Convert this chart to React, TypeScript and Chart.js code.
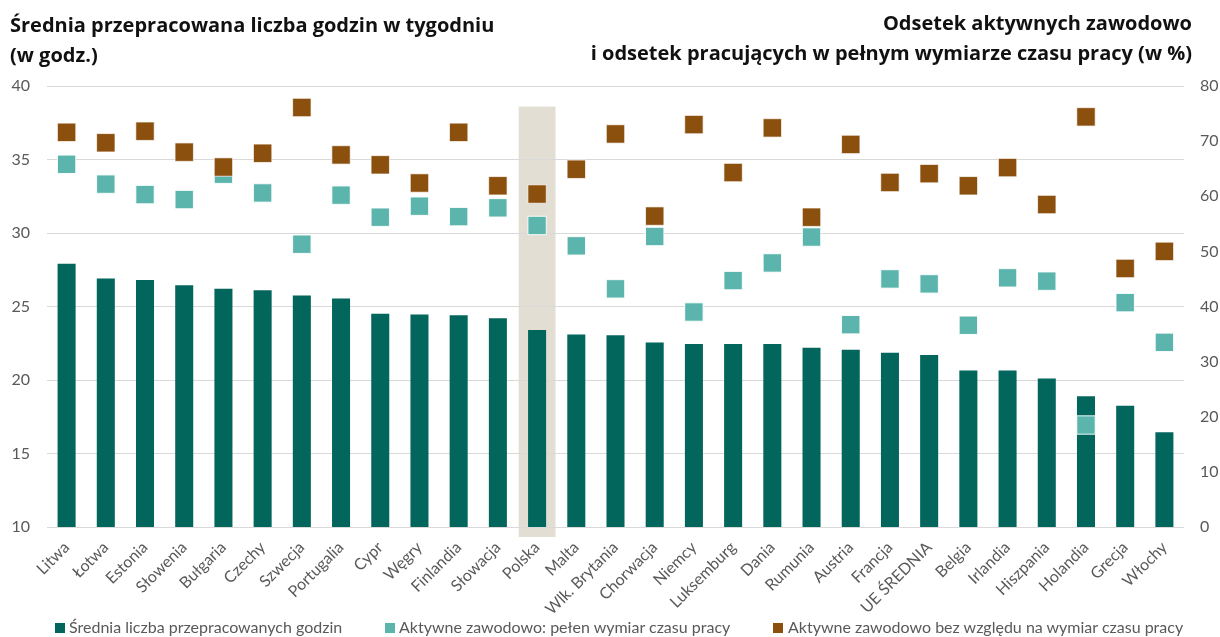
import React, { useEffect, useRef } from "react";
import { Chart, registerables } from "chart.js";

Chart.register(...registerables);

const categories = [
  "Litwa", "Łotwa", "Estonia", "Słowenia", "Bułgaria", "Czechy", "Szwecja", "Portugalia",
  "Cypr", "Węgry", "Finlandia", "Słowacja", "Polska", "Malta", "Wlk. Brytania", "Chorwacja",
  "Niemcy", "Luksemburg", "Dania", "Rumunia", "Austria", "Francja", "UE ŚREDNIA", "Belgia",
  "Irlandia", "Hiszpania", "Holandia", "Grecja", "Włochy",
];

// Średnia liczba przepracowanych godzin (left axis)
const avgHours = [
  27.9, 26.9, 26.8, 26.45, 26.2, 26.1, 25.75, 25.55,
  24.5, 24.45, 24.4, 24.2, 23.4, 23.1, 23.05, 22.55,
  22.45, 22.45, 22.45, 22.2, 22.05, 21.85, 21.7, 20.65,
  20.65, 20.1, 18.9, 18.25, 16.45,
];

// Aktywne zawodowo: pełen wymiar czasu pracy (right axis, %)
const fullTimeRate = [
  65.8, 62.2, 60.3, 59.4, 64.0, 60.6, 51.3, 60.2,
  56.2, 58.2, 56.3, 57.9, 54.7, 51.0, 43.2, 52.7,
  39.0, 44.7, 47.9, 52.6, 36.7, 45.0, 44.1, 36.6,
  45.2, 44.6, 18.5, 40.7, 33.5,
];

// Aktywne zawodowo bez względu na wymiar czasu pracy (right axis, %)
const activityRate = [
  71.6, 69.7, 71.8, 68.0, 65.3, 67.8, 76.1, 67.5,
  65.7, 62.4, 71.6, 61.9, 60.4, 64.9, 71.3, 56.4,
  73.0, 64.3, 72.4, 56.2, 69.4, 62.5, 64.1, 61.9,
  65.2, 58.5, 74.4, 46.9, 50.0,
];

const leftAxisRange = [10, 40];
const leftAxisStep = 5;
const rightAxisRange = [0, 80];
const rightAxisStep = 10;

const highlightCategory = "Polska";
const highlightTopValue = 38.6;

const seriesNames = [
  "Średnia liczba przepracowanych godzin",
  "Aktywne zawodowo: pełen wymiar czasu pracy",
  "Aktywne zawodowo bez względu na wymiar czasu pracy",
];
const seriesColors = ["#03665C", "#5BB5AC", "#8B4F0E"];

const FONT = "Lato, 'Open Sans', sans-serif";
const TITLE_FONT = "'Open Sans', Lato, sans-serif";

const highlightPlugin = {
  id: "highlightBand",
  beforeDraw(chart: any) {
    const x = chart.scales.x;
    const y = chart.scales.y;
    const idx = categories.indexOf(highlightCategory);
    if (idx < 0) return;
    const cx = x.getPixelForValue(idx);
    const step = x.getPixelForValue(1) - x.getPixelForValue(0);
    const w = step * 0.94;
    const top = y.getPixelForValue(highlightTopValue);
    const bottom = chart.chartArea.bottom + 10;
    const ctx = chart.ctx;
    ctx.save();
    ctx.fillStyle = "#E3DED3";
    ctx.fillRect(cx - w / 2, top, w, bottom - top);
    ctx.restore();
  },
};

export default function App() {
  const canvasRef = useRef<HTMLCanvasElement | null>(null);

  useEffect(() => {
    if (!canvasRef.current) return;
    const chart = new Chart(canvasRef.current, {
      type: "bar",
      data: {
        labels: categories,
        datasets: [
          {
            type: "bar",
            label: seriesNames[0],
            data: avgHours,
            backgroundColor: seriesColors[0],
            yAxisID: "y",
            order: 2,
            barPercentage: 0.46,
            categoryPercentage: 1,
          } as any,
          {
            type: "line",
            label: seriesNames[1],
            data: fullTimeRate,
            yAxisID: "y1",
            showLine: false,
            pointStyle: "rect",
            pointRadius: 13,
            pointBackgroundColor: seriesColors[1],
            pointBorderColor: "rgba(255,255,255,0.9)",
            pointBorderWidth: 1,
            backgroundColor: seriesColors[1],
            borderColor: seriesColors[1],
            order: 1,
          } as any,
          {
            type: "line",
            label: seriesNames[2],
            data: activityRate,
            yAxisID: "y1",
            showLine: false,
            pointStyle: "rect",
            pointRadius: 13,
            pointBackgroundColor: seriesColors[2],
            pointBorderColor: "rgba(255,255,255,0.7)",
            pointBorderWidth: 1,
            backgroundColor: seriesColors[2],
            borderColor: seriesColors[2],
            order: 0,
          } as any,
        ],
      },
      options: {
        animation: false,
        responsive: false,
        maintainAspectRatio: false,
        layout: { padding: { top: 86, left: 0, right: 0, bottom: 0 } },
        plugins: {
          legend: { display: false },
          tooltip: { enabled: false },
          title: { display: false },
        },
        scales: {
          x: {
            grid: { display: false },
            border: { display: false },
            ticks: {
              autoSkip: false,
              maxRotation: 45,
              minRotation: 45,
              color: "#595959",
              font: { family: FONT, size: 16 },
              padding: 3,
            },
            afterFit(scale: any) {
              scale.height = 110;
            },
          },
          y: {
            position: "left",
            min: leftAxisRange[0],
            max: leftAxisRange[1],
            ticks: {
              stepSize: leftAxisStep,
              color: "#595959",
              font: { family: FONT, size: 16 },
              padding: 17,
            },
            grid: { color: "#D9D9D9", drawTicks: false, lineWidth: 1 },
            border: { display: false },
            afterFit(scale: any) {
              scale.width = 47;
            },
          },
          y1: {
            position: "right",
            min: rightAxisRange[0],
            max: rightAxisRange[1],
            ticks: {
              stepSize: rightAxisStep,
              color: "#595959",
              font: { family: FONT, size: 16 },
              padding: 16,
            },
            grid: { display: false, drawTicks: false },
            border: { display: false },
            afterFit(scale: any) {
              scale.width = 36;
            },
          },
        },
      },
      plugins: [highlightPlugin],
    });
    return () => chart.destroy();
  }, []);

  const titleStyle: React.CSSProperties = {
    position: "absolute",
    fontFamily: TITLE_FONT,
    fontWeight: 700,
    fontSize: 20,
    lineHeight: "30px",
    color: "#111",
    whiteSpace: "nowrap",
  };

  const legendItems = [
    { box: 55, text: 69 },
    { box: 385, text: 399 },
    { box: 773, text: 788 },
  ];

  return (
    <div style={{ position: "absolute", left: 0, top: 0, width: 1220, height: 637, background: "#fff", overflow: "hidden" }}>
      <canvas ref={canvasRef} width={1220} height={637} style={{ position: "absolute", left: 0, top: 0, width: 1220, height: 637 }} />
      <div style={{ ...titleStyle, left: 10, top: 10, textAlign: "left" }}>
        Średnia przepracowana liczba godzin w tygodniu
        <br />
        (w godz.)
      </div>
      <div style={{ ...titleStyle, right: 28, top: 8, textAlign: "right" }}>
        Odsetek aktywnych zawodowo
        <br />
        i odsetek pracujących w pełnym wymiarze czasu pracy (w %)
      </div>
      {legendItems.map((it, i) => (
        <React.Fragment key={i}>
          <div
            style={{
              position: "absolute",
              left: it.box,
              top: 623,
              width: 10,
              height: 10,
              background: seriesColors[i],
            }}
          />
          <div
            style={{
              position: "absolute",
              left: it.text,
              top: 617,
              fontFamily: FONT,
              fontSize: 16,
              lineHeight: "20px",
              color: "#595959",
              whiteSpace: "nowrap",
            }}
          >
            {seriesNames[i]}
          </div>
        </React.Fragment>
      ))}
    </div>
  );
}
